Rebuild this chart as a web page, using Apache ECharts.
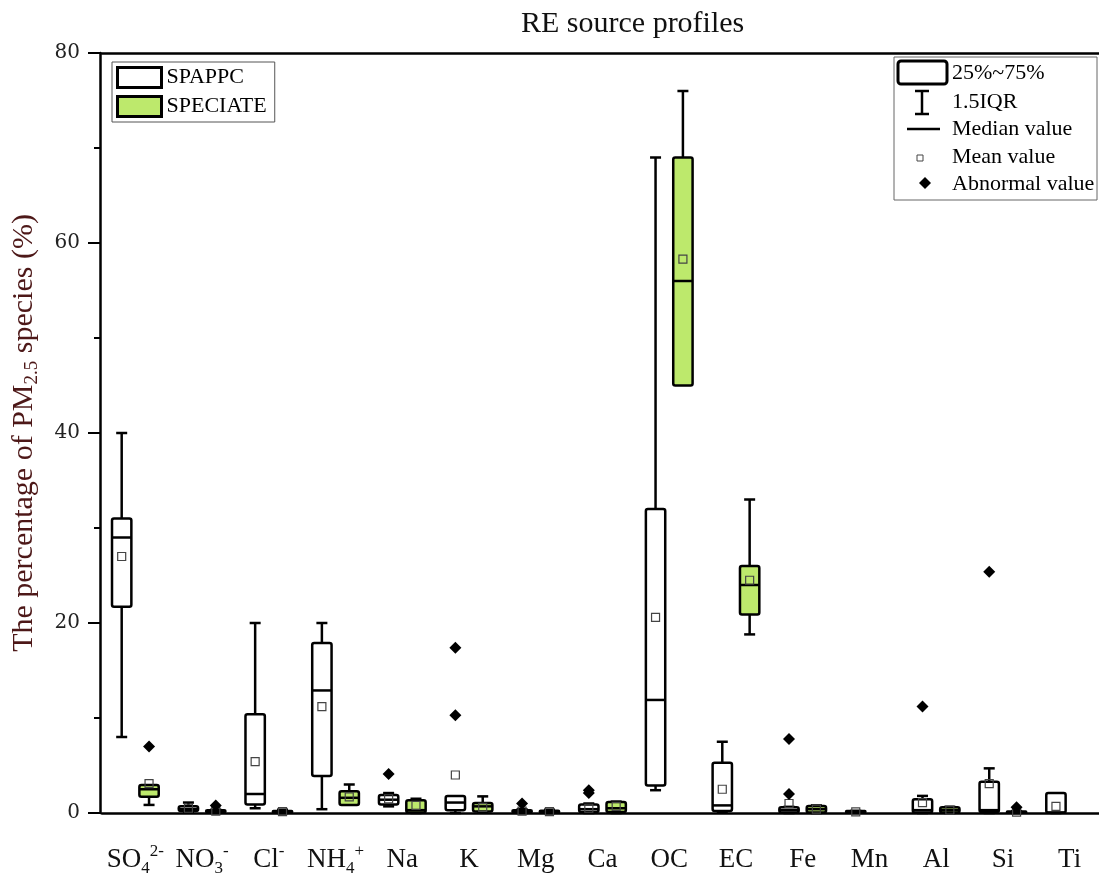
<!DOCTYPE html>
<html>
<head>
<meta charset="utf-8">
<script src="https://cdn.jsdelivr.net/npm/echarts@6/dist/echarts.min.js"></script>
<style>html,body{margin:0;padding:0;background:#fff;}#chart{width:1099px;height:875px;}</style>
</head>
<body>
<div id="chart"></div>
<script>
// ---------- data ----------
const categories = ['SO4 2-', 'NO3 -', 'Cl -', 'NH4 +', 'Na', 'K', 'Mg', 'Ca', 'OC', 'EC', 'Fe', 'Mn', 'Al', 'Si', 'Ti'];
const categoryLabels = ['{n|SO}{sub|4}{sup|2-}', '{n|NO}{sub|3}{sup|-}', '{n|Cl}{sup|-}', '{n|NH}{sub|4}{sup|+}',
  '{n|Na}', '{n|K}', '{n|Mg}', '{n|Ca}', '{n|OC}', '{n|EC}', '{n|Fe}', '{n|Mn}', '{n|Al}', '{n|Si}', '{n|Ti}'];
// [low whisker, Q1, median, Q3, high whisker]
const spappcBox = [
  [8, 21.7, 29, 31, 40], [0.1, 0.2, 0.4, 0.7, 1.1], [0.5, 0.9, 2.0, 10.4, 20], [0.4, 3.9, 12.9, 17.9, 20],
  [0.7, 0.9, 1.4, 1.9, 2.1], [0, 0.3, 1.1, 1.8, 1.8], [0, 0.05, 0.15, 0.3, 0.4], [0, 0.1, 0.4, 0.9, 1.0],
  [2.4, 2.9, 11.9, 32, 69], [0.1, 0.2, 0.8, 5.3, 7.5], [0, 0.05, 0.3, 0.6, 0.65], [0.05, 0.08, 0.1, 0.2, 0.22],
  [0, 0.05, 0.3, 1.45, 1.8], [0, 0.1, 0.3, 3.3, 4.7], [0, 0.02, 0.05, 2.1, 2.1]
];
const spappcMean = [27, 0.5, 5.4, 11.2, 1.5, 4.0, 0.2, 0.5, 20.6, 2.5, 1.0, 0.12, 1.1, 3.1, 0.7];
const speciateBox = [
  [0.85, 1.7, 2.5, 2.95, 2.95], [0, 0.05, 0.15, 0.3, 0.35], [0, 0.05, 0.1, 0.2, 0.35], [0.85, 0.85, 1.6, 2.3, 3.0],
  [0, 0.05, 0.3, 1.35, 1.5], [0.1, 0.15, 0.7, 1.05, 1.75], [0, 0.05, 0.12, 0.25, 0.35], [0, 0.1, 0.5, 1.15, 1.2],
  [45, 45, 56, 69, 76], [18.8, 20.9, 24, 26, 33], [0, 0.05, 0.4, 0.75, 0.8], null,
  [0, 0.05, 0.3, 0.6, 0.65], [0, 0.02, 0.05, 0.15, 0.2], null
];
const speciateMean = [3.1, 0.2, 0.15, 1.7, 0.8, 0.6, 0.15, 0.7, 58.3, 24.5, 0.4, null, 0.3, 0.1, null];
// outliers: [category index, value]
const spappcOutliers = [[4, 4.1], [5, 17.4], [5, 10.3], [6, 1.0], [7, 2.1], [7, 2.4], [10, 7.8], [10, 2.0], [12, 11.2], [13, 25.4]];
const speciateOutliers = [[0, 7.0], [1, 0.8], [13, 0.6]];
const yTicks = {min: 0, max: 80, interval: 20};

// ---------- build ----------
const serif = '"Liberation Serif", "Times New Roman", serif';
function boxData(box, mean) {
  const out = [];
  box.forEach((b, i) => { if (b) out.push([i, b[0], b[1], b[2], b[3], b[4], mean[i]]); });
  return out;
}
function boxRender(fill, sign) {
  return function (params, api) {
    const idx = api.value(0);
    const band = api.size([1, 0])[0];
    const cx = api.coord([idx, 0])[0] + sign * band * 0.205;
    const w = band * 0.29;
    const Y = v => api.coord([idx, v])[1];
    const yLow = Y(api.value(1)), yQ1 = Y(api.value(2)), yMed = Y(api.value(3)),
          yQ3 = Y(api.value(4)), yHigh = Y(api.value(5)), yMean = Y(api.value(6));
    const cap = 11, lw = 2.5;
    const line = (x1, y1, x2, y2) => ({type: 'line', shape: {x1, y1, x2, y2}, style: {stroke: '#000', lineWidth: lw}});
    const ch = [];
    if (yHigh < yQ3) { ch.push(line(cx, yQ3, cx, yHigh)); ch.push(line(cx - cap / 2, yHigh, cx + cap / 2, yHigh)); }
    if (yLow > yQ1) { ch.push(line(cx, yQ1, cx, yLow)); ch.push(line(cx - cap / 2, yLow, cx + cap / 2, yLow)); }
    ch.push({type: 'rect', shape: {x: cx - w / 2, y: yQ3, width: w, height: Math.max(yQ1 - yQ3, 1), r: 2},
      style: {fill: fill, stroke: '#000', lineWidth: lw}});
    ch.push(line(cx - w / 2, yMed, cx + w / 2, yMed));
    ch.push({type: 'rect', shape: {x: cx - 4, y: yMean - 4, width: 8, height: 8},
      style: {fill: 'none', stroke: '#444', lineWidth: 1.2}});
    return {type: 'group', children: ch};
  };
}
function outlierRender(sign) {
  return function (params, api) {
    const idx = api.value(0);
    const band = api.size([1, 0])[0];
    const p = api.coord([idx, api.value(1)]);
    const cx = p[0] + sign * band * 0.205, cy = p[1], r = 6;
    return {type: 'polygon', shape: {points: [[cx, cy - r], [cx + r, cy], [cx, cy + r], [cx - r, cy]]}, style: {fill: '#000'}};
  };
}
const green = '#bde96c';

const legend2X = 952;
const graphics = [
  {type: 'rect', z: 100, shape: {x: 894, y: 57, width: 203, height: 143}, style: {fill: '#fff', stroke: '#666', lineWidth: 1}},
  {type: 'rect', z: 101, shape: {x: 898, y: 61, width: 49, height: 23, r: 3}, style: {fill: '#fff', stroke: '#000', lineWidth: 3}},
  {type: 'line', z: 101, shape: {x1: 922, y1: 91, x2: 922, y2: 114}, style: {stroke: '#000', lineWidth: 2.5}},
  {type: 'line', z: 101, shape: {x1: 915, y1: 91, x2: 929, y2: 91}, style: {stroke: '#000', lineWidth: 2.5}},
  {type: 'line', z: 101, shape: {x1: 915, y1: 114, x2: 929, y2: 114}, style: {stroke: '#000', lineWidth: 2.5}},
  {type: 'line', z: 101, shape: {x1: 907, y1: 129, x2: 940, y2: 129}, style: {stroke: '#000', lineWidth: 2.5}},
  {type: 'rect', z: 101, shape: {x: 917, y: 155, width: 6, height: 6}, style: {fill: 'none', stroke: '#444', lineWidth: 1}},
  {type: 'polygon', z: 101, shape: {points: [[925, 177], [931, 183], [925, 189], [919, 183]]}, style: {fill: '#000'}}
];
[['25%~75%', 73], ['1.5IQR', 102], ['Median value', 129], ['Mean value', 157], ['Abnormal value', 184]].forEach(t => {
  graphics.push({type: 'text', z: 101, style: {text: t[0], x: legend2X, y: t[1], font: '22px ' + serif, fill: '#000', verticalAlign: 'middle'}});
});

const chart = echarts.init(document.getElementById('chart'), null, {renderer: 'canvas'});
chart.setOption({
  animation: false,
  backgroundColor: '#fff',
  title: {text: 'RE source profiles', left: 521, top: 9, padding: 0,
    textStyle: {fontFamily: serif, fontSize: 30, fontWeight: 'normal', color: '#111'}},
  legend: {
    left: 112, top: 62, orient: 'vertical', itemWidth: 44, itemHeight: 20, itemGap: 6,
    padding: [4, 8, 4, 4], borderColor: '#555', borderWidth: 1, backgroundColor: '#fff',
    textStyle: {fontFamily: serif, fontSize: 22, color: '#000'},
    data: [
      {name: 'SPAPPC', icon: 'rect', itemStyle: {color: '#fff', borderColor: '#000', borderWidth: 3}},
      {name: 'SPECIATE', icon: 'rect', itemStyle: {color: green, borderColor: '#000', borderWidth: 3}}
    ]
  },
  grid: {left: 102, right: -4, top: 53, bottom: 62, containLabel: false, outerBoundsMode: 'none'},
  xAxis: [{
    type: 'category', data: categories, boundaryGap: true,
    axisLine: {lineStyle: {color: '#000', width: 2.5}},
    axisTick: {alignWithLabel: true, interval: 0, length: 14, lineStyle: {color: '#000', width: 2.5}},
    axisLabel: {interval: 0, margin: 30, formatter: (v, i) => categoryLabels[i],
      rich: {
        n: {fontFamily: serif, fontSize: 27, color: '#111', lineHeight: 34},
        sub: {fontFamily: serif, fontSize: 17, color: '#111', lineHeight: 17, verticalAlign: 'bottom'},
        sup: {fontFamily: serif, fontSize: 17, color: '#111', lineHeight: 17, verticalAlign: 'top'}
      }},
    splitLine: {show: false}
  }, {
    type: 'category', data: categories, position: 'top',
    axisLine: {lineStyle: {color: '#000', width: 2.5}}, axisTick: {show: false}, axisLabel: {show: false}
  }],
  yAxis: {
    type: 'value', min: yTicks.min, max: yTicks.max, interval: yTicks.interval, offset: 2,
    axisLine: {show: true, lineStyle: {color: '#000', width: 2.5}},
    axisTick: {show: true, length: 12, lineStyle: {color: '#000', width: 2}},
    minorTick: {show: true, splitNumber: 2, length: 6, lineStyle: {color: '#000', width: 2}},
    splitLine: {show: false},
    axisLabel: {margin: 20, fontFamily: '"DejaVu Serif", serif', fontSize: 20, color: '#222'},
    name: '{a|The percentage of PM}{s|2.5}{a| species (%)}', nameLocation: 'middle', nameGap: 58,
    nameTextStyle: {rich: {
      a: {fontFamily: serif, fontSize: 30, color: '#4d1818', lineHeight: 36},
      s: {fontFamily: serif, fontSize: 19, color: '#4d1818', lineHeight: 19, verticalAlign: 'bottom'}
    }}
  },
  series: [
    {name: 'SPAPPC', type: 'custom', renderItem: boxRender('#fff', -1), data: boxData(spappcBox, spappcMean),
      encode: {x: 0, y: [1, 2, 3, 4, 5, 6]}, itemStyle: {color: '#fff', borderColor: '#000'}, z: 3},
    {name: 'SPECIATE', type: 'custom', renderItem: boxRender(green, 1), data: boxData(speciateBox, speciateMean),
      encode: {x: 0, y: [1, 2, 3, 4, 5, 6]}, itemStyle: {color: green, borderColor: '#000'}, z: 3},
    {name: 'SPAPPC outliers', type: 'custom', renderItem: outlierRender(-1), data: spappcOutliers,
      encode: {x: 0, y: 1}, z: 4},
    {name: 'SPECIATE outliers', type: 'custom', renderItem: outlierRender(1), data: speciateOutliers,
      encode: {x: 0, y: 1}, z: 4}
  ],
  graphic: graphics
});
</script>
</body>
</html>
